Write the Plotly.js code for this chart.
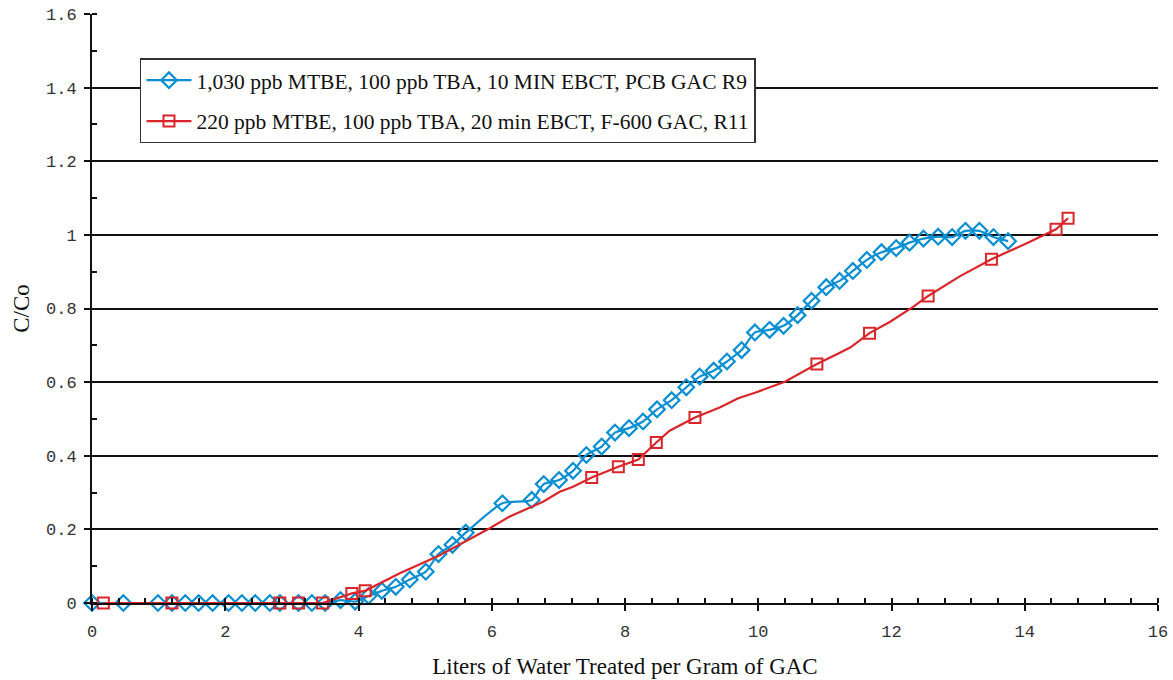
<!DOCTYPE html>
<html>
<head>
<meta charset="utf-8">
<script src="https://cdn.plot.ly/plotly-3.0.1.min.js"></script>
<style>html,body{margin:0;padding:0;background:#fff;}#chart{width:1173px;height:680px;}</style>
</head>
<body>
<div id="chart"></div>
<script>
// Series 1: 1,030 ppb MTBE, PCB GAC R9
const blueName = "1,030 ppb MTBE, 100 ppb TBA, 10 MIN EBCT, PCB GAC R9";
const blueX = [0, 0.47, 0.99, 1.20, 1.40, 1.60, 1.81, 2.05, 2.25, 2.45, 2.67, 2.82, 3.10, 3.30, 3.50, 3.73, 3.95, 4.15, 4.35, 4.56, 4.77, 5.01, 5.20, 5.41, 5.61, 6.16, 6.60, 6.78, 7.01, 7.22, 7.42, 7.65, 7.85, 8.06, 8.27, 8.48, 8.70, 8.92, 9.12, 9.33, 9.53, 9.75, 9.95, 10.17, 10.38, 10.59, 10.80, 11.02, 11.22, 11.42, 11.63, 11.85, 12.07, 12.27, 12.48, 12.70, 12.91, 13.11, 13.32, 13.53, 13.75];
const blueY = [0, 0, 0, 0, 0, 0, 0, 0, 0, 0, 0, 0, 0, 0, 0, 0.008, 0.004, 0.019, 0.033, 0.044, 0.064, 0.085, 0.133, 0.158, 0.191, 0.271, 0.280, 0.323, 0.334, 0.359, 0.402, 0.425, 0.463, 0.475, 0.493, 0.526, 0.551, 0.586, 0.615, 0.631, 0.656, 0.687, 0.735, 0.742, 0.753, 0.782, 0.821, 0.858, 0.875, 0.902, 0.932, 0.953, 0.964, 0.979, 0.990, 0.995, 0.994, 1.011, 1.011, 0.994, 0.983];

// Series 2: 220 ppb MTBE, F-600 GAC R11 (line points; markers only on sampled points)
const redName = "220 ppb MTBE, 100 ppb TBA, 20 min EBCT, F-600 GAC, R11";
const redX = [0.17, 1.20, 2.82, 3.10, 3.46, 3.90, 4.10, 4.62, 5.22, 5.97, 6.27, 6.77, 7.02, 7.22, 7.50, 7.90, 8.20, 8.47, 8.67, 9.05, 9.43, 9.70, 9.95, 10.40, 10.88, 11.18, 11.38, 11.67, 11.98, 12.33, 12.55, 13.03, 13.50, 14.03, 14.47, 14.65];
const redY = [0, 0, 0, 0, 0, 0.026, 0.033, 0.081, 0.130, 0.203, 0.235, 0.275, 0.302, 0.316, 0.341, 0.370, 0.390, 0.436, 0.468, 0.504, 0.532, 0.556, 0.571, 0.601, 0.649, 0.676, 0.694, 0.733, 0.764, 0.805, 0.834, 0.888, 0.934, 0.977, 1.015, 1.045];
const redMarkerX = [0.17, 1.20, 2.82, 3.10, 3.46, 3.90, 4.10, 7.50, 7.90, 8.20, 8.47, 9.05, 10.88, 11.67, 12.55, 13.50, 14.47, 14.65];

const xTitle = "Liters of Water Treated per Gram of GAC";
const yTitle = "C/Co";

const BLUE = "#0a8fd2";
const RED = "#d9262a";
const redColors = redX.map(v => redMarkerX.includes(v) ? RED : "rgba(0,0,0,0)");

const traces = [
  {
    x: blueX, y: blueY, name: blueName, type: "scatter", mode: "lines+markers",
    line: {color: BLUE, width: 2.2, shape: "spline", smoothing: 0.6},
    marker: {symbol: "diamond-open", size: 12, color: BLUE, line: {width: 2.2, color: BLUE}},
    cliponaxis: false, legendgroup: "a"
  },
  {
    x: redX, y: redY, name: redName, type: "scatter", mode: "lines+markers",
    line: {color: RED, width: 2.2},
    marker: {symbol: "square-open", size: 11, color: redColors, line: {width: 2}},
    cliponaxis: false, legendgroup: "b"
  }
];

const tickFont = {family: "Liberation Mono, Courier New, monospace", size: 17, color: "#333"};
const titleFont = {family: "Liberation Serif, Times New Roman, serif", size: 23, color: "#111"};

const layout = {
  width: 1173, height: 680,
  margin: {l: 92, r: 15, t: 14, b: 77},
  paper_bgcolor: "#fff", plot_bgcolor: "#fff",
  showlegend: true,
  legend: {
    x: 0.045, y: 0.925, xanchor: "left", yanchor: "top",
    bgcolor: "#fff", bordercolor: "#333", borderwidth: 1.5,
    font: {family: "Liberation Serif, Times New Roman, serif", size: 21.5, color: "#111"},
    traceorder: "grouped", tracegroupgap: 10, itemwidth: 45
  },
  xaxis: {
    range: [0, 16], dtick: 2, tick0: 0,
    showgrid: false, zeroline: false,
    showline: true, linecolor: "#111", linewidth: 2,
    ticks: "outside", ticklen: 6, tickwidth: 1.5, tickcolor: "#111",
    minor: {dtick: 0.4, ticks: "inside", ticklen: 5, tickwidth: 1.5, tickcolor: "#111", showgrid: false},
    tickfont: tickFont, ticklabelstandoff: 6,
    title: {text: xTitle, font: titleFont, standoff: 16}
  },
  yaxis: {
    range: [0, 1.6], dtick: 0.2, tick0: 0,
    showgrid: true, gridcolor: "#111", gridwidth: 2, zeroline: false,
    showline: true, linecolor: "#111", linewidth: 2,
    ticks: "outside", ticklen: 6, tickwidth: 1.5, tickcolor: "#111",
    minor: {dtick: 0.1, ticks: "inside", ticklen: 5, tickwidth: 1.5, tickcolor: "#111", showgrid: false},
    tickfont: tickFont, tickformat: "~g", ticklabelstandoff: 4,
    title: {text: yTitle, font: titleFont, standoff: 10}
  }
};

Plotly.newPlot("chart", traces, layout, {displayModeBar: false, responsive: false});
</script>
</body>
</html>
